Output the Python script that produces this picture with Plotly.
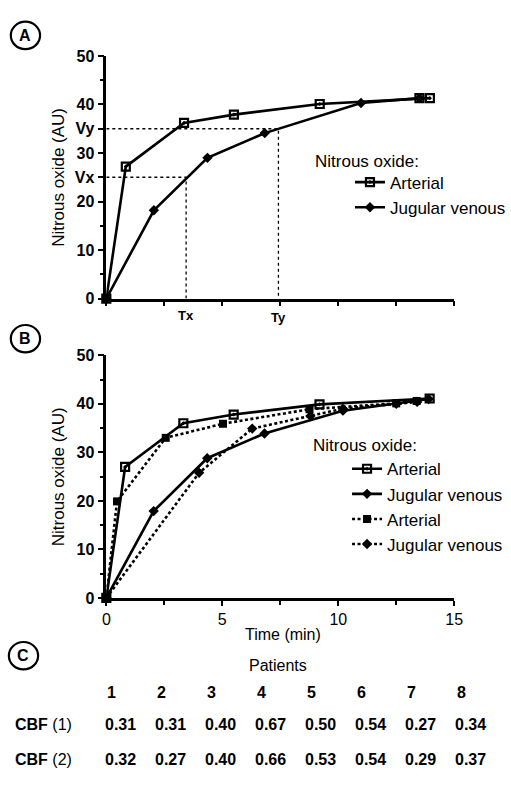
import plotly.graph_objects as go

# ---------------- data ----------------
# Panel A
a_time_art = [0, 0.84, 3.35, 5.5, 9.2, 13.5, 13.95]
a_no_art = [0, 27.2, 36.2, 37.9, 40.1, 41.3, 41.3]
a_time_jug = [0, 2.05, 4.36, 6.83, 10.98, 13.5]
a_no_jug = [0, 18.2, 29.0, 34.1, 40.3, 41.3]
Tx, Ty = 3.44, 7.42
Vx, Vy = 25, 35

# Panel B
b_time_art1 = [0, 0.81, 3.32, 5.49, 9.19, 13.94]
b_no_art1 = [0, 27.0, 36.0, 37.8, 39.9, 41.1]
b_time_jug1 = [0, 2.04, 4.35, 6.82, 10.2, 13.9]
b_no_jug1 = [0, 17.9, 28.8, 33.9, 38.6, 41.0]
b_time_art2 = [0, 0.46, 2.56, 5.03, 8.76, 12.5, 13.38]
b_no_art2 = [0, 19.9, 33.0, 35.9, 38.9, 40.1, 40.6]
b_time_jug2 = [0, 4.0, 6.29, 8.8, 10.2, 12.5, 13.4]
b_no_jug2 = [0, 25.8, 34.9, 37.5, 39.0, 40.0, 40.4]

# Panel C
patients = ["1", "2", "3", "4", "5", "6", "7", "8"]
cbf_labels = ["<b>CBF</b> (1)", "<b>CBF</b> (2)"]
cbf1 = [0.31, 0.31, 0.40, 0.67, 0.50, 0.54, 0.27, 0.34]
cbf2 = [0.32, 0.27, 0.40, 0.66, 0.53, 0.54, 0.29, 0.37]

y_ticks = [0, 10, 20, 30, 40, 50]
a_y_ticks = [0, 10, 20, Vx, 30, Vy, 40, 50]
a_y_text = ["0", "10", "20", "Vx", "30", "Vy", "40", "50"]
b_x_ticks = [0, 5, 10, 15]
legend_title = "Nitrous oxide:"

W, H = 511, 787
FONT = "Liberation Sans, Arial, Helvetica, sans-serif"


def px(x):
    return x / W


def py(y):
    return 1 - y / H


fig = go.Figure()

LW = 2.6
art_marker = dict(symbol="square-open-dot", size=8, color="black", line=dict(width=2.2, color="black"))
jug_marker = dict(symbol="diamond", size=8, color="black", line=dict(width=0))
art2_marker = dict(symbol="square", size=8, color="black")
DASH = "3px,2.5px"

# Panel A reference dotted lines
fig.add_trace(go.Scatter(x=[0, Tx, Tx], y=[Vx, Vx, 0], mode="lines", xaxis="x", yaxis="y",
                         line=dict(color="black", width=1.3, dash="dot"), showlegend=False, hoverinfo="skip"))
fig.add_trace(go.Scatter(x=[0, Ty, Ty], y=[Vy, Vy, 0], mode="lines", xaxis="x", yaxis="y",
                         line=dict(color="black", width=1.3, dash="dot"), showlegend=False, hoverinfo="skip"))

fig.add_trace(go.Scatter(x=a_time_art, y=a_no_art, mode="lines+markers", name="Arterial",
                         xaxis="x", yaxis="y", legend="legend", cliponaxis=False,
                         line=dict(color="black", width=LW), marker=art_marker))
fig.add_trace(go.Scatter(x=a_time_jug, y=a_no_jug, mode="lines+markers", name="Jugular venous",
                         xaxis="x", yaxis="y", legend="legend", cliponaxis=False,
                         line=dict(color="black", width=LW), marker=jug_marker))

# Panel B
fig.add_trace(go.Scatter(x=b_time_art1, y=b_no_art1, mode="lines+markers", name="Arterial",
                         xaxis="x2", yaxis="y2", legend="legend2", cliponaxis=False,
                         line=dict(color="black", width=LW), marker=art_marker))
fig.add_trace(go.Scatter(x=b_time_jug1, y=b_no_jug1, mode="lines+markers", name="Jugular venous",
                         xaxis="x2", yaxis="y2", legend="legend2", cliponaxis=False,
                         line=dict(color="black", width=LW), marker=jug_marker))
fig.add_trace(go.Scatter(x=b_time_art2, y=b_no_art2, mode="lines+markers", name="Arterial",
                         xaxis="x2", yaxis="y2", legend="legend2", cliponaxis=False,
                         line=dict(color="black", width=LW, dash=DASH), marker=art2_marker))
fig.add_trace(go.Scatter(x=b_time_jug2, y=b_no_jug2, mode="lines+markers", name="Jugular venous",
                         xaxis="x2", yaxis="y2", legend="legend2", cliponaxis=False,
                         line=dict(color="black", width=LW, dash=DASH), marker=jug_marker))

tickfont = dict(family=FONT, size=16, color="black", weight="bold")
axis_common = dict(showline=True, linecolor="black", linewidth=2.5, showgrid=False, zeroline=False,
                   ticks="outside", tickcolor="black", tickwidth=2, mirror=False, fixedrange=True)

xdom = [px(105), px(462)]
legfont = dict(family=FONT, size=17, color="black")
fig.update_layout(
    width=W, height=H, margin=dict(l=0, r=0, t=0, b=0),
    paper_bgcolor="white", plot_bgcolor="white",
    font=dict(family=FONT, color="black"),
    xaxis=dict(domain=xdom, range=[0, 15], anchor="y", tickvals=[0, 2.5, 5, 7.5, 10, 12.5, 15],
               ticktext=[""] * 7, ticklen=5, **axis_common),
    yaxis=dict(domain=[py(297), py(49)], range=[0, 50], anchor="x", tickvals=a_y_ticks,
               ticktext=a_y_text, tickfont=tickfont, ticklen=6,
               minor=dict(dtick=5, ticklen=4, tickcolor="black", ticks="outside", tickwidth=2),
               **axis_common),
    xaxis2=dict(domain=xdom, range=[0, 15], anchor="y2", tickvals=b_x_ticks,
                ticktext=[str(v) for v in b_x_ticks], tickfont=dict(family=FONT, size=16, color="black"),
                ticklen=5, minor=dict(dtick=2.5, ticklen=4, tickcolor="black", ticks="outside", tickwidth=2),
                **axis_common),
    yaxis2=dict(domain=[py(603), py(355)], range=[0, 50], anchor="x2", tickvals=y_ticks,
                ticktext=[str(v) for v in y_ticks], tickfont=tickfont, ticklen=6,
                minor=dict(dtick=5, ticklen=4, tickcolor="black", ticks="outside", tickwidth=2),
                **axis_common),
    legend=dict(x=px(355), y=py(160), xanchor="left", yanchor="top", bgcolor="rgba(0,0,0,0)",
                font=legfont, tracegroupgap=0),
    legend2=dict(x=px(352), y=py(453), xanchor="left", yanchor="top", bgcolor="rgba(0,0,0,0)",
                 font=legfont, tracegroupgap=0),
)

ann = []
txtfont = dict(family=FONT, size=16, color="black")
boldfont = dict(family=FONT, size=16, color="black", weight="bold")
# legend titles
for (lx, ly) in [(317, 157), (315, 447)]:
    ann.append(dict(text=legend_title, x=px(lx), y=py(ly), xref="paper", yref="paper", showarrow=False,
                    xanchor="left", yanchor="middle", font=legfont))
# y-axis titles
for yc in (173, 479):
    ann.append(dict(text="Nitrous oxide (AU)", x=px(56), y=py(yc), xref="paper", yref="paper",
                    textangle=-90, showarrow=False, xanchor="center", yanchor="middle",
                    font=dict(family=FONT, size=17, color="black")))
# Tx / Ty labels
ann.append(dict(text="<b>Tx</b>", x=Tx, y=py(314), xref="x", yref="paper", showarrow=False,
                font=dict(family=FONT, size=13, color="black"), yanchor="middle"))
ann.append(dict(text="<b>Ty</b>", x=Ty, y=py(316), xref="x", yref="paper", showarrow=False,
                font=dict(family=FONT, size=13, color="black"), yanchor="middle"))
# x title B
ann.append(dict(text="Time (min)", x=px(286), y=py(640), xref="paper", yref="paper", showarrow=False,
                font=dict(family=FONT, size=16, color="black"), xanchor="center", yanchor="middle"))

# panel letters
shapes = []
for letter, (cx, cy) in zip(["A", "B", "C"], [(22, 28), (22, 338), (20, 662)]):
    shapes.append(dict(type="circle", xref="paper", yref="paper",
                       x0=px(cx - 15), x1=px(cx + 15), y0=py(cy + 14), y1=py(cy - 14),
                       line=dict(color="black", width=2.2)))
    ann.append(dict(text="<b>" + letter + "</b>", x=px(cx), y=py(cy), xref="paper", yref="paper",
                    showarrow=False, xanchor="center", yanchor="middle",
                    font=dict(family=FONT, size=16, color="black")))

# Panel C table
ann.append(dict(text="Patients", x=px(281), y=py(672), xref="paper", yref="paper", showarrow=False,
                xanchor="center", yanchor="middle", font=txtfont))
col_left = [102 + i * 51.2 for i in range(len(patients))]
for i, p in enumerate(patients):
    ann.append(dict(text=p, x=px(col_left[i] + 2), y=py(700), xref="paper", yref="paper",
                    showarrow=False, xanchor="left", yanchor="middle", font=boldfont))
for row_y, label, vals in zip([732, 768], cbf_labels, [cbf1, cbf2]):
    ann.append(dict(text=label, x=px(9), y=py(row_y), xref="paper", yref="paper",
                    showarrow=False, xanchor="left", yanchor="middle", font=txtfont))
    for i, v in enumerate(vals):
        ann.append(dict(text=f"{v:.2f}", x=px(col_left[i]), y=py(row_y), xref="paper", yref="paper",
                        showarrow=False, xanchor="left", yanchor="middle", font=boldfont))

fig.update_layout(annotations=ann, shapes=shapes)
fig.write_html("out.html")
